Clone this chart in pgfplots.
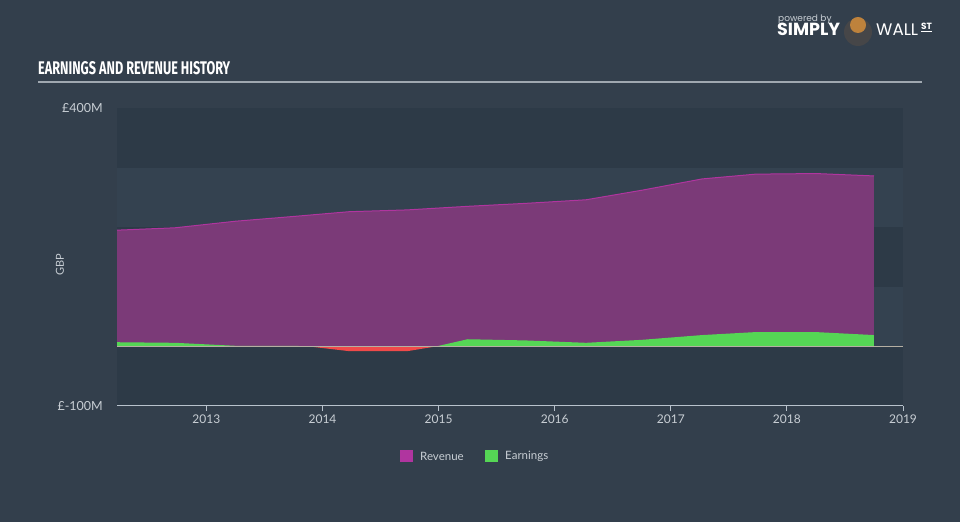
\documentclass[border=0pt]{standalone}
\usepackage{pgfplots}
\pgfplotsset{compat=1.18}
\usepackage{fontspec}
\setmainfont{Lato}
\newfontfamily\titlefont{Fira Sans}
\newfontfamily\logofont{Poppins}
\definecolor{bg}{HTML}{333F4C}
\definecolor{banddark}{HTML}{2D3A47}
\definecolor{bandlight}{HTML}{344250}
\definecolor{revfill}{HTML}{7B3A78}
\definecolor{revline}{HTML}{B0359F}
\definecolor{earnfill}{HTML}{55D655}
\definecolor{lossfill}{HTML}{F04A4A}
\definecolor{ticktext}{HTML}{C8CED4}
\definecolor{axisline}{HTML}{B8C2CC}
\definecolor{zeroline}{HTML}{B5AFA3}
\definecolor{titleline}{HTML}{A0A8B0}
\definecolor{bullface}{HTML}{BE823C}
\definecolor{bullbody}{HTML}{464648}
\begin{document}
\begin{tikzpicture}[x=1bp,y=1bp]
\fill[bg] (0,0) rectangle (960,522);
% title
\node[anchor=base west, inner sep=0pt, text=white] at (38,447) {\resizebox{192bp}{13bp}{\titlefont\bfseries EARNINGS AND REVENUE HISTORY}};
\draw[line width=1.5bp, titleline] (38,440) -- (922,440);
% logo
\node[anchor=base west, inner sep=0pt, text=ticktext] at (778,500) {\logofont\fontsize{9bp}{10bp}\selectfont powered by};
\node[anchor=base west, inner sep=0pt, text=white] at (777,486) {\resizebox{63bp}{!}{\logofont\bfseries\fontsize{16bp}{17bp}\selectfont SIMPLY}};
\fill[bullbody] (858,490) circle (14);
\fill[bullface] (858,497) circle (8);
\node[anchor=base west, inner sep=0pt, text=white] at (876,486) {\resizebox{42bp}{!}{\logofont\fontsize{16bp}{17bp}\selectfont WALL}};
\node[anchor=base west, inner sep=0pt, text=white] at (921,492) {\logofont\bfseries\fontsize{9bp}{10bp}\selectfont \underline{ST}};
% GBP label and y labels
\node[rotate=90, text=ticktext, font=\fontsize{11bp}{12bp}\selectfont] at (60,257) {GBP};
\node[anchor=east, text=ticktext, font=\fontsize{12.5bp}{14bp}\selectfont, inner sep=0pt] at (103,414) {£400M};
\node[anchor=east, text=ticktext, font=\fontsize{12.5bp}{14bp}\selectfont, inner sep=0pt] at (103,116) {£-100M};
% legend
\fill[revline] (400,60) rectangle (413,72);
\node[anchor=west, text=ticktext, font=\fontsize{11.5bp}{12bp}\selectfont, inner sep=0pt] at (420,66) {Revenue};
\fill[earnfill] (485,60) rectangle (498,72);
\node[anchor=west, text=ticktext, font=\fontsize{11.5bp}{12bp}\selectfont, inner sep=0pt] at (505,66) {Earnings};
\begin{axis}[
  at={(117bp,116bp)}, anchor=south west,
  scale only axis, width=786bp, height=298bp,
  xmin=2012.23, xmax=2019, ymin=-100, ymax=400,
  axis x line*=bottom, axis y line=none,
  x axis line style={axisline, line width=1bp, -},
  xtick={2013,2014,2015,2016,2017,2018,2019},
  xticklabels={2013,2014,2015,2016,2017,2018,2019},
  tick align=outside, major tick length=5bp,
  xtick style={axisline, line width=1bp},
  xticklabel style={text=ticktext, font=\fontsize{12bp}{13bp}\selectfont, yshift=0bp},
  ytick=\empty,
  clip=false,
  axis on top,
]
% bands
\fill[banddark] (axis cs:2012.23,300) rectangle (axis cs:2019,400);
\fill[bandlight] (axis cs:2012.23,200) rectangle (axis cs:2019,300);
\fill[banddark] (axis cs:2012.23,100) rectangle (axis cs:2019,200);
\fill[bandlight] (axis cs:2012.23,0) rectangle (axis cs:2019,100);
\fill[banddark] (axis cs:2012.23,-100) rectangle (axis cs:2019,0);
% revenue
\addplot[draw=none, fill=revfill] coordinates {(2012.23,0) (2012.23,195) (2012.73,199) (2013.25,210) (2013.75,218) (2014.23,226) (2014.73,229) (2015.25,235) (2015.75,240) (2016.27,246) (2016.75,262) (2017.27,281) (2017.73,289) (2018.25,290) (2018.75,286) (2018.75,0)} -- cycle;
\addplot[revline, line width=1bp] coordinates {(2012.23,195) (2012.73,199) (2013.25,210) (2013.75,218) (2014.23,226) (2014.73,229) (2015.25,235) (2015.75,240) (2016.27,246) (2016.75,262) (2017.27,281) (2017.73,289) (2018.25,290) (2018.75,286)};
% earnings positive
\addplot[draw=none, fill=earnfill] coordinates {(2012.23,0) (2012.23,7) (2012.73,6) (2013.25,1) (2013.75,1) (2013.88,0) (2014.98,0) (2015.25,12) (2015.75,10) (2016.27,6) (2016.75,11) (2017.27,19) (2017.73,24) (2018.25,24) (2018.75,19) (2018.75,0)} -- cycle;
% earnings negative
\addplot[draw=none, fill=lossfill] coordinates {(2013.88,0) (2014.23,-8) (2014.73,-8) (2014.98,0)} -- cycle;
% zero line
\draw[zeroline, line width=1bp] (axis cs:2012.23,0) -- (axis cs:2019,0);
\end{axis}
\end{tikzpicture}
\end{document}
